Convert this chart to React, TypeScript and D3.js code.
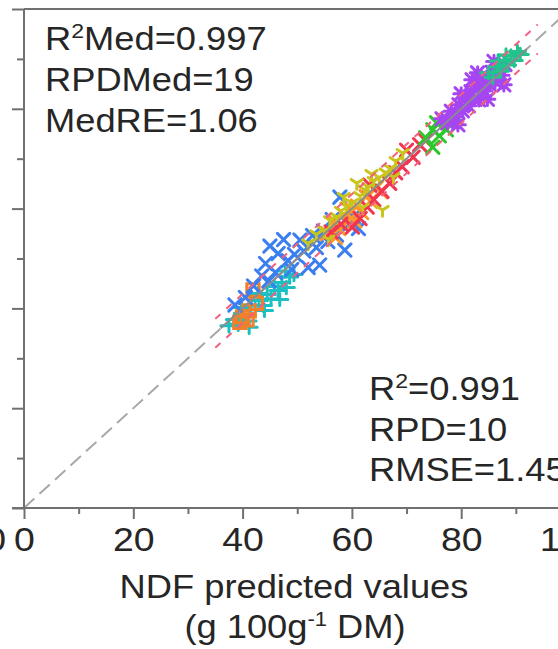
import React, { useEffect, useRef } from 'react';
import * as d3 from 'd3';

// axis ticks (predicted values on x, reference values on y)
const majorTicks = [0, 20, 40, 60, 80, 100];
const minorTicks = [10, 30, 50, 70, 90];

// statistics printed on the panel
const medStats = [['R', '2', 'Med=0.997'], ['RPDMed=19'], ['MedRE=1.06']];
const fitStats = [['R', '2', '=0.991'], ['RPD=10'], ['RMSE=1.45']];

// [predicted, reference] pairs, one array per group
const orangeLow = [[40.8, 37.7], [40, 38.3], [41.9, 43.7], [41.2, 39.5], [39.5, 37.2], [42.5, 41]];
const teal = [
  [37.5, 36.5], [38.5, 37.8], [39.2, 36.8], [40.2, 38.8], [41, 37.5], [41.5, 40.5], [42.3, 39.8],
  [43, 41.6], [43.8, 40.6], [44.5, 42.8], [45.2, 41.9], [45.8, 44.4], [46.5, 43.6], [47.2, 45.2],
  [48, 44.2], [48.6, 46.3], [49.4, 46.8], [44, 39.6], [42.8, 43], [39.8, 40.2], [46.8, 41.8],
  [47.8, 47.5], [41.2, 36.2],
];
const blue = [
  [38.6, 40.7], [40.5, 42.2], [42, 44.5], [43.5, 46.5], [44.2, 49], [45, 52.5], [46.5, 51],
  [47.5, 53.8], [48.3, 49.6], [49.5, 50.8], [50.5, 53.7], [51.2, 51.5], [52, 48.2], [52.8, 54.6],
  [53.5, 52.2], [54.1, 48.7], [54.8, 55.5], [55.6, 53.4], [56.4, 57.8], [57.2, 54.7], [58.7, 51.7],
  [59.5, 56.8], [60.3, 58.4], [61.2, 56], [46, 47.2], [49, 47.8], [44.8, 45.5], [57.8, 62.3],
];
const orangeMid = [
  [55.5, 55], [56.8, 57.4], [57.6, 56], [58.5, 58.8], [59.2, 57.3], [60, 59.8], [61, 60.5],
  [61.8, 59.2], [62.6, 62.4], [63.4, 61.5], [64.5, 64.2], [65.3, 63.4], [57, 54.2], [60.5, 57.5],
];
const red = [
  [56.2, 55.3], [58, 56.9], [60.1, 56.3], [61.5, 58], [62.8, 60.3], [64, 61.8], [65.5, 63.5],
  [66.9, 65.1], [68, 67.2], [69.2, 68.4], [70, 71.7], [71.2, 70.3], [72.4, 72.8], [73.5, 73.6],
  [63.3, 64.7],
];
const yellow = [
  [52, 53], [53.5, 54.8], [55, 55.5], [56, 57.6], [57.2, 58.3], [58, 59.5], [59, 60.4], [60, 61.1],
  [60.9, 65.1], [61.5, 62.5], [62.3, 63.8], [63, 64.3], [64, 65.5], [65, 66.2], [65.6, 59.7],
  [66.2, 67.2], [67, 68], [68, 69.5], [69.3, 71.1], [58.5, 62.3], [62, 60.2], [55.7, 53.8],
  [63.6, 66.9], [67.6, 66.3],
];
const green = [[73.5, 74.2], [74.8, 75.8], [74.8, 72.3], [76, 74.6], [77.3, 75.8], [78, 77.4], [75.5, 77.2], [79, 78.6]];
const purple = [
  [76.5, 78], [77.5, 77.2], [78.2, 79.5], [79, 78.4], [79.6, 80.8], [80.2, 79.6], [80.8, 82.3],
  [81.3, 80.6], [81.8, 83.4], [82.3, 82], [82.8, 84.6], [83.2, 81.8], [83.7, 85.3], [84.2, 83.6],
  [84.7, 86.4], [85.2, 84.8], [85.7, 87.3], [86.2, 85.4], [86.8, 88.2], [87.4, 86.7], [88, 88.9],
  [82, 85.8], [84.8, 81.9], [80, 83], [86, 89.5], [87.8, 84.8], [79.4, 76.8], [83, 87.2],
];
const seaGreen = [
  [85, 87.2], [85.8, 86.3], [86.5, 88.4], [87.2, 87.6], [87.8, 89.6], [88.5, 88.8], [89.1, 90.6],
  [89.7, 89.7], [90.3, 91.5], [90.8, 90.9], [88.2, 90.8], [86.8, 89.6],
];

const groups = [
  { points: teal, color: '#1fbfc2', marker: 'plus' },
  { points: orangeLow, color: '#f0802a', marker: 'square' },
  { points: blue, color: '#3b7ef0', marker: 'x' },
  { points: orangeMid, color: '#ff962a', marker: 'x' },
  { points: red, color: '#f2344f', marker: 'x' },
  { points: yellow, color: '#c8c61c', marker: 'tri' },
  { points: green, color: '#2cc82c', marker: 'x' },
  { points: purple, color: '#a645f2', marker: 'star' },
  { points: seaGreen, color: '#20c48e', marker: 'plus' },
];

const markerPath = (type, r) => {
  if (type === 'x') return `M${-r},${-r}L${r},${r}M${-r},${r}L${r},${-r}`;
  if (type === 'plus') return `M${-r * 1.3},0L${r * 1.3},0M0,${-r}L0,${r}`;
  if (type === 'tri') return `M0,0L0,${r}M0,0L${-r * 0.9},${-r * 0.6}M0,0L${r * 0.9},${-r * 0.6}`;
  if (type === 'square') return `M${-r},${-r}H${r}V${r}H${-r}Z`;
  return `M${-r},${-r}L${r},${r}M${-r},${r}L${r},${-r}M${-r * 1.2},0L${r * 1.2},0M0,${-r}L0,${r}`;
};

const W = 558;
const H = 649;
const FONT = '"Liberation Sans", Arial, sans-serif';
const TEXT = '#262626';
const AXIS = '#707070';

const App = () => {
  const svgRef = useRef(null);

  useEffect(() => {
    const svg = d3.select(svgRef.current);
    svg.selectAll('*').remove();

    const x = d3.scaleLinear().domain([0, 100]).range([24, 570.5]);
    const y = d3.scaleLinear().domain([0, 100]).range([508, 9]);

    // frame top and 1:1 reference
    svg.append('line')
      .attr('x1', x(0)).attr('x2', W)
      .attr('y1', y(100)).attr('y2', y(100))
      .attr('stroke', AXIS).attr('stroke-width', 2);

    const line = d3.line().x(d => x(d[0])).y(d => y(d[1]));

    svg.append('path')
      .attr('d', line([[0, 0], [100, 100]]))
      .attr('fill', 'none')
      .attr('stroke', '#a8a8a8')
      .attr('stroke-width', 2)
      .attr('stroke-dasharray', '14,7');

    // samples
    const blur = svg.append('defs').append('filter').attr('id', 'soft');
    blur.append('feGaussianBlur').attr('stdDeviation', 0.5);

    groups.forEach(g => {
      svg.append('g')
        .attr('filter', 'url(#soft)')
        .selectAll('path')
        .data(g.points)
        .enter().append('path')
        .attr('transform', d => `translate(${x(d[0])},${y(d[1])})`)
        .attr('d', markerPath(g.marker, 6.2))
        .attr('fill', 'none')
        .attr('stroke', g.color)
        .attr('stroke-width', 3)
        .attr('stroke-linecap', 'round');
    });

    // prediction band and fitted line
    [2.9, -2.9].forEach(off => {
      svg.append('path')
        .attr('d', line([[35, 35 + off], [94, 94 + off]]))
        .attr('fill', 'none')
        .attr('stroke', '#f2607e')
        .attr('stroke-width', 2)
        .attr('stroke-dasharray', '7,8');
    });

    svg.append('path')
      .attr('d', line([[36, 36], [92, 92]]))
      .attr('fill', 'none')
      .attr('stroke', '#8c8c8c')
      .attr('stroke-width', 2);

    // axes
    const styleAxis = sel => {
      sel.select('.domain').remove();
      sel.selectAll('line').attr('stroke', AXIS).attr('stroke-width', 2);
    };

    svg.append('g')
      .attr('transform', `translate(0,${y(0)})`)
      .call(d3.axisBottom(x).tickValues(minorTicks).tickSize(6).tickFormat(() => ''))
      .call(styleAxis);

    svg.append('g')
      .attr('transform', `translate(0,${y(0)})`)
      .call(d3.axisBottom(x).tickValues(majorTicks).tickSize(11).tickPadding(8))
      .call(styleAxis)
      .call(g => g.selectAll('text')
        .attr('font-family', FONT)
        .attr('font-size', 34)
        .attr('fill', TEXT)
        .attr('transform', 'scale(1.1,1)'));

    svg.append('g')
      .attr('transform', `translate(${x(0)},0)`)
      .call(d3.axisLeft(y).tickValues(minorTicks).tickSize(7).tickFormat(() => ''))
      .call(styleAxis);

    svg.append('g')
      .attr('transform', `translate(${x(0)},0)`)
      .call(d3.axisLeft(y).tickValues(majorTicks).tickSize(12).tickFormat(() => ''))
      .call(styleAxis);

    svg.append('line')
      .attr('x1', x(0)).attr('x2', x(0))
      .attr('y1', y(100)).attr('y2', y(0))
      .attr('stroke', AXIS).attr('stroke-width', 2);

    svg.append('line')
      .attr('x1', 12).attr('x2', W)
      .attr('y1', y(0)).attr('y2', y(0))
      .attr('stroke', AXIS).attr('stroke-width', 2);

    // neighbouring panel's last tick label, cut by the crop
    svg.append('text')
      .attr('transform', 'translate(6,551) scale(1.1,1)')
      .attr('text-anchor', 'end')
      .attr('font-family', FONT).attr('font-size', 34).attr('fill', TEXT)
      .text('100');

    const writeLines = (lines, x0, y0, step) => {
      lines.forEach((parts, i) => {
        const t = svg.append('text')
          .attr('transform', `translate(${x0},${y0 + i * step}) scale(1.1,1)`)
          .attr('font-family', FONT).attr('font-size', 33).attr('fill', TEXT);
        if (parts.length === 1) {
          t.text(parts[0]);
        } else {
          t.append('tspan').text(parts[0]);
          t.append('tspan').attr('font-size', 21).attr('dy', -12).text(parts[1]);
          t.append('tspan').attr('dy', 12).text(parts[2]);
        }
      });
    };

    writeLines(medStats, 45, 50, 41);
    writeLines(fitStats, 369, 400, 40.5);

    // axis title
    const title = svg.append('g')
      .attr('font-family', FONT).attr('font-size', 33).attr('fill', TEXT)
      .attr('text-anchor', 'middle');

    title.append('text')
      .attr('transform', 'translate(294,598) scale(1.1,1)')
      .text('NDF predicted values');

    const unit = title.append('text')
      .attr('transform', 'translate(295,638) scale(1.1,1)');
    unit.append('tspan').text('(g 100g');
    unit.append('tspan').attr('font-size', 20).attr('dy', -12).text('-1');
    unit.append('tspan').attr('dy', 12).text(' DM)');
  }, []);

  return (
    <svg
      ref={svgRef}
      width={W}
      height={H}
      style={{ position: 'absolute', left: 0, top: 0, background: '#fff' }}
    />
  );
};

export default App;
